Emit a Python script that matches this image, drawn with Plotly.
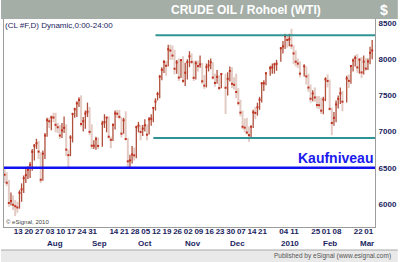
import numpy as np
import plotly.graph_objects as go

# ---------------- data ----------------
dates = [
    "2009-07-06","2009-07-07","2009-07-08","2009-07-09","2009-07-10","2009-07-13","2009-07-14","2009-07-15",
    "2009-07-16","2009-07-17","2009-07-20","2009-07-21","2009-07-22","2009-07-23","2009-07-24","2009-07-27",
    "2009-07-28","2009-07-29","2009-07-30","2009-07-31",
    "2009-08-03","2009-08-04","2009-08-05","2009-08-06","2009-08-07","2009-08-10","2009-08-11","2009-08-12",
    "2009-08-13","2009-08-14","2009-08-17","2009-08-18","2009-08-19","2009-08-20","2009-08-21","2009-08-24",
    "2009-08-25","2009-08-26","2009-08-27","2009-08-28","2009-08-31",
    "2009-09-01","2009-09-02","2009-09-03","2009-09-04","2009-09-08","2009-09-09","2009-09-10","2009-09-11",
    "2009-09-14","2009-09-15","2009-09-16","2009-09-17","2009-09-18","2009-09-21","2009-09-22","2009-09-23",
    "2009-09-24","2009-09-25","2009-09-28","2009-09-29","2009-09-30",
    "2009-10-01","2009-10-02","2009-10-05","2009-10-06","2009-10-07","2009-10-08","2009-10-09","2009-10-12",
    "2009-10-13","2009-10-14","2009-10-15","2009-10-16","2009-10-19","2009-10-20","2009-10-21","2009-10-22",
    "2009-10-23","2009-10-26","2009-10-27","2009-10-28","2009-10-29","2009-10-30",
    "2009-11-02","2009-11-03","2009-11-04","2009-11-05","2009-11-06","2009-11-09","2009-11-10","2009-11-11",
    "2009-11-12","2009-11-13","2009-11-16","2009-11-17","2009-11-18","2009-11-19","2009-11-20","2009-11-23",
    "2009-11-24","2009-11-25","2009-11-27","2009-11-30",
    "2009-12-01","2009-12-02","2009-12-03","2009-12-04","2009-12-07","2009-12-08","2009-12-09","2009-12-10",
    "2009-12-11","2009-12-14","2009-12-15","2009-12-16","2009-12-17","2009-12-18","2009-12-21","2009-12-22",
    "2009-12-23","2009-12-24","2009-12-28","2009-12-29","2009-12-30","2009-12-31",
    "2010-01-04","2010-01-05","2010-01-06","2010-01-07","2010-01-08","2010-01-11","2010-01-12","2010-01-13",
    "2010-01-14","2010-01-15","2010-01-19","2010-01-20","2010-01-21","2010-01-22","2010-01-25","2010-01-26",
    "2010-01-27","2010-01-28","2010-01-29",
    "2010-02-01","2010-02-02","2010-02-03","2010-02-04","2010-02-05","2010-02-08","2010-02-09","2010-02-10",
    "2010-02-11","2010-02-12","2010-02-16","2010-02-17","2010-02-18","2010-02-19","2010-02-22","2010-02-23",
    "2010-02-24","2010-02-25","2010-02-26",
    "2010-03-01","2010-03-02","2010-03-03","2010-03-04",
]

high = [
    6495,6440,6330,6160,6120,6055,6030,6190,6285,6395,6485,6520,6580,6760,6830,6900,6870,6715,6740,6980,
    7190,7190,7220,7260,7260,7120,7090,7120,7210,7100,6750,6950,7260,7330,7420,7475,7500,7200,7290,7400,7340,
    7100,6880,6930,6920,7150,7240,7200,7210,6930,7110,7290,7300,7300,7200,7190,7280,6910,6680,6800,6780,7080,
    7135,7090,7090,7170,7100,7200,7240,7340,7460,7550,7780,7890,7990,7975,8200,8200,8190,8130,7990,8010,8000,8040,
    7950,8000,8110,8080,7980,7980,7980,8050,7950,7780,7940,7990,8010,7960,7800,7850,7780,7800,7800,7820,
    7900,7890,7750,7800,7600,7440,7290,7180,7190,7070,7080,7300,7340,7400,7480,7680,7710,7820,7910,7940,7950,7990,
    8168,8250,8352,8336,8350,8420,8190,8120,8010,7970,7930,7900,7800,7650,7570,7610,7490,7490,7470,
    7480,7750,7790,7720,7330,7270,7430,7500,7610,7560,7770,7790,7920,8010,8050,8070,8010,8030,8050,
    8015,8010,8170,8265,
]

low = [
    6290,6250,5960,5980,5917,5832,5880,5935,6030,6150,6290,6345,6360,6460,6600,6760,6620,6290,6320,6620,
    6930,7050,7020,7130,6990,6980,6900,6910,6980,6660,6505,6660,6850,7190,7200,7340,7070,7000,7040,7200,6950,
    6760,6758,6750,6760,6790,7050,6990,6900,6770,6870,7030,7190,7170,6920,6970,6880,6510,6505,6560,6600,6630,
    6990,6880,6940,7000,6880,6960,7080,7130,7290,7430,7460,7710,7810,7770,7900,7990,7990,7790,7800,7700,7740,7670,
    7630,7720,7890,7930,7700,7720,7830,7880,7660,7590,7610,7830,7860,7720,7620,7660,7570,7600,7243,7500,
    7690,7600,7580,7460,7360,7210,7030,6990,6960,6860,6910,7050,7170,7220,7300,7400,7560,7640,7770,7800,7800,7840,
    7963,8080,8140,8160,8180,8140,7930,7900,7880,7750,7760,7650,7550,7400,7420,7410,7320,7310,7243,
    7240,7420,7610,7290,6950,7080,7130,7320,7380,7280,7400,7600,7660,7830,7900,7810,7800,7740,7790,
    7840,7850,7930,8000,
]

close = [
    6405,6293,6014,6041,5989,5969,5952,6154,6202,6356,6398,6472,6540,6720,6805,6838,6723,6335,6694,6945,
    7158,7142,7197,7194,7093,7060,6945,7016,7052,6751,6675,6919,7242,7309,7389,7437,7105,7143,7249,7274,6996,
    6805,6805,6896,6802,7110,7131,7194,6929,6886,7093,7251,7247,7204,6971,7155,6897,6589,6602,6684,6671,7061,
    7082,6995,7041,7088,6957,7169,7177,7327,7415,7518,7758,7853,7961,7909,8137,8119,8050,7868,7955,7746,7987,7700,
    7813,7960,8040,7962,7743,7943,7905,7928,7694,7635,7890,7914,7958,7746,7672,7756,7602,7796,7605,7728,
    7837,7660,7646,7547,7393,7262,7067,7054,6987,6951,7069,7266,7258,7336,7440,7667,7667,7805,7877,7887,7928,7936,
    8151,8177,8318,8266,8275,8189,8079,7965,7939,7800,7902,7762,7608,7454,7526,7471,7367,7364,7289,
    7443,7723,7698,7314,7119,7189,7375,7452,7528,7413,7733,7701,7906,7981,8016,7886,7994,7817,7966,
    7870,7968,8087,8120,
]

resistance_level = 8330
resistance_start = "2009-10-13"
support_level = 6910
support_start = "2009-10-12"
buy_level = 6500
buy_label = "Kaufniveau"

tick_dates = [
    "2009-07-13","2009-07-20","2009-07-27","2009-08-03","2009-08-10","2009-08-17","2009-08-24","2009-08-31",
    "2009-09-14","2009-09-21","2009-09-28","2009-10-05","2009-10-12","2009-10-19","2009-10-26","2009-11-02",
    "2009-11-09","2009-11-16","2009-11-23","2009-11-30","2009-12-07","2009-12-14","2009-12-21","2010-01-04",
    "2010-01-11","2010-01-25","2010-02-01","2010-02-08","2010-02-22","2010-03-01",
]
tick_text = ["13","20","27","03","10","17","24","31","14","21","28","05","12","19","26","02",
             "09","16","23","30","07","14","21","04","11","25","01","08","22","01"]
month_dates = ["2009-08-03","2009-09-01","2009-10-01","2009-11-02","2009-12-01","2010-01-04","2010-02-01","2010-03-01"]
month_text = ["Aug","Sep","Oct","Nov","Dec","2010","Feb","Mar"]
y_ticks = [6000, 6500, 7000, 7500, 8000, 8500]

title_text = "CRUDE OIL / Rohoel (WTI)"
currency_text = "$"
symbol_text = "(CL #F,D) Dynamic,0:00-24:00"
copyright_text = "\u00a9 eSignal, 2010"
publisher_text = "Published by eSignal (www.esignal.com)"

# ---------------- geometry / helpers ----------------
W, H = 400, 262
PL, PR, PT, PB = 3, 377, 19, 227          # plot area in pixels
START = dates[0]
PX_PER_DAY = 2.142
FIRST_BAR_PX = 3.6
X_LO = -(FIRST_BAR_PX - PL) / PX_PER_DAY
X_HI = X_LO + (PR - PL) / PX_PER_DAY
Y_LO, Y_HI = 5682, 8555


def xi(d):
    return int(np.busday_count(START, d))


def pxx(px):
    return (px - PL) / (PR - PL)


def pxy(py):
    return (PB - py) / (PB - PT)


x = [xi(d) for d in dates]

up_x, up_y, dn_x, dn_y = [], [], [], []
prev = None
for xv, h, l, c in zip(x, high, low, close):
    if prev is not None and c >= prev:
        up_x += [xv, xv, None]
        up_y += [l, h, None]
    else:
        dn_x += [xv, xv, None]
        dn_y += [l, h, None]
    prev = c

DARK = "#b0503c"
LIGHT = "#e3cbc4"
NAVY = "#1b2460"

fig = go.Figure()
fig.add_trace(go.Scatter(x=dn_x, y=dn_y, mode="lines", line=dict(color=LIGHT, width=2),
                         hoverinfo="skip", showlegend=False))
fig.add_trace(go.Scatter(x=up_x, y=up_y, mode="lines", line=dict(color=DARK, width=1.3),
                         hoverinfo="skip", showlegend=False))
fig.add_trace(go.Scatter(x=x, y=close, mode="markers",
                         marker=dict(symbol="square", size=2, color="#c0301f", line=dict(width=0)),
                         hoverinfo="skip", showlegend=False))

shapes = [
    # title bar
    dict(type="rect", xref="paper", yref="paper", x0=pxx(0), x1=pxx(W), y0=pxy(PT), y1=pxy(0),
         fillcolor="#a4aea7", line=dict(width=0), layer="above"),
    # bottom strip
    dict(type="rect", xref="paper", yref="paper", x0=pxx(0), x1=pxx(W), y0=pxy(H), y1=pxy(250),
         fillcolor="#e9e9e9", line=dict(width=0), layer="above"),
    dict(type="line", xref="paper", yref="paper", x0=pxx(0), x1=pxx(W), y0=pxy(250), y1=pxy(250),
         line=dict(color="#a8a8a8", width=1), layer="above"),
    # level lines
    dict(type="line", xref="x", yref="y", x0=xi(resistance_start), x1=X_HI,
         y0=resistance_level, y1=resistance_level, line=dict(color="#2f9494", width=2)),
    dict(type="line", xref="x", yref="y", x0=xi(support_start), x1=X_HI,
         y0=support_level, y1=support_level, line=dict(color="#2f9494", width=2)),
    dict(type="line", xref="paper", yref="y", x0=0, x1=1,
         y0=buy_level, y1=buy_level, line=dict(color="#1010f0", width=2.5)),
]

ann = [
    dict(text=title_text, xref="paper", yref="paper", x=pxx(247), y=pxy(10), xanchor="center",
         yanchor="middle", showarrow=False,
         font=dict(family="Liberation Sans", size=12, color="white", weight="bold")),
    dict(text=currency_text, xref="paper", yref="paper", x=pxx(386), y=pxy(10), xanchor="center",
         yanchor="middle", showarrow=False,
         font=dict(family="Liberation Sans", size=14, color="white", weight="bold")),
    dict(text=symbol_text, xref="paper", yref="paper", x=pxx(3), y=pxy(25), xanchor="left",
         yanchor="middle", showarrow=False, borderpad=0,
         font=dict(family="Liberation Sans", size=8, color=NAVY)),
    dict(text=copyright_text, xref="paper", yref="paper", x=pxx(4), y=pxy(222), xanchor="left",
         yanchor="middle", showarrow=False, borderpad=0,
         font=dict(family="Liberation Sans", size=6, color="#444444")),
    dict(text=buy_label, xref="paper", yref="y", x=pxx(376), y=buy_level, xanchor="right",
         yanchor="bottom", showarrow=False, borderpad=0, yshift=1,
         font=dict(family="Liberation Sans", size=14, color="#1a1aee", weight="bold")),
    dict(text=publisher_text, xref="paper", yref="paper", x=pxx(394), y=pxy(256), xanchor="right",
         yanchor="middle", showarrow=False, borderpad=0,
         font=dict(family="Liberation Sans", size=6.5, color="#555555")),
]
for i, (md, mt) in enumerate(zip(month_dates, month_text)):
    last = i == len(month_dates) - 1
    ann.append(dict(text=mt, xref="x", yref="paper",
                    x=X_HI if last else xi(md) - 0.5, y=pxy(243),
                    xanchor="right" if last else "left", yanchor="middle", showarrow=False,
                    borderpad=0,
                    font=dict(family="Liberation Sans", size=8, color=NAVY, weight="bold")))

fig.update_layout(
    width=W, height=H,
    margin=dict(l=PL, r=W - PR, t=PT, b=H - PB, pad=0),
    paper_bgcolor="white", plot_bgcolor="white",
    showlegend=False,
    shapes=shapes, annotations=ann,
    xaxis=dict(range=[X_LO, X_HI], showgrid=False, zeroline=False,
               showline=True, linecolor="#9c9c9c", linewidth=1, mirror=False,
               tickvals=[xi(d) for d in tick_dates], ticktext=tick_text, ticks="",
               tickangle=0, ticklabelshift=3, ticklabelstandoff=-4,
               tickfont=dict(family="Liberation Sans", size=8, color=NAVY, weight="bold")),
    yaxis=dict(range=[Y_LO, Y_HI], side="right", showgrid=False, zeroline=False,
               showline=True, linecolor="#9c9c9c", linewidth=1, mirror=True,
               tickvals=y_ticks, ticks="", ticklabelstandoff=1,
               tickfont=dict(family="Liberation Sans", size=8, color=NAVY, weight="bold")),
)

fig.write_html("out.html", config={"displayModeBar": False})
